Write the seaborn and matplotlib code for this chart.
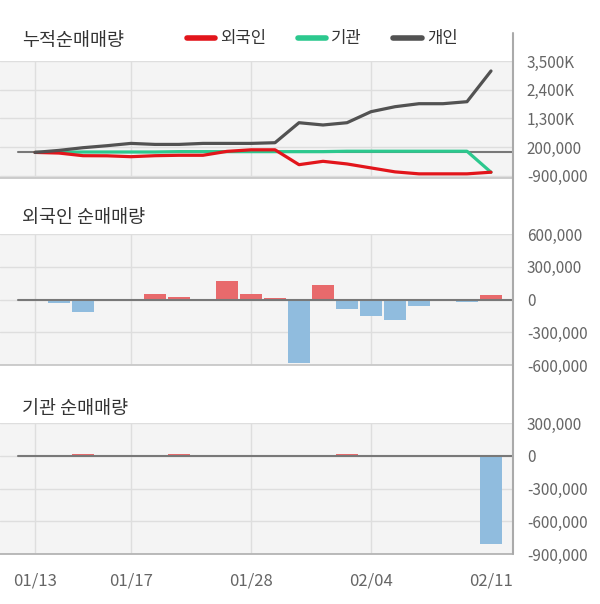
import matplotlib
matplotlib.use("Agg")
import matplotlib.pyplot as plt
from matplotlib.lines import Line2D
import seaborn as sns
import pandas as pd
import numpy as np

# ---------------- data ----------------
dates = ['01/13', '01/14', '01/15', '01/16', '01/17', '01/20', '01/21', '01/22', '01/23', '01/28',
         '01/29', '01/30', '01/31', '02/03', '02/04', '02/05', '02/06', '02/07', '02/10', '02/11']
tick_dates = ['01/13', '01/17', '01/28', '02/04', '02/11']

foreign_daily = [0, -28000, -110000, 0, 0, 46000, 21000, 0, 174000, 49000,
                 15000, -578000, 135000, -83000, -147000, -184000, -64000, 0, -20000, 43000]
inst_daily = [0, 0, 15000, 0, 0, 0, 15000, 0, 0, 0,
              0, 0, 0, 15000, 0, 0, 0, 0, 0, -805000]

foreign_cum = [0, -25000, -126000, -130000, -164000, -126000, -110000, -110000, 40000, 100000,
               100000, -470000, -341000, -442000, -594000, -745000, -821000, -821000, -821000, -758000]
inst_cum = [0, 0, 15000, 15000, 15000, 15000, 30000, 30000, 30000, 30000,
            30000, 30000, 30000, 45000, 45000, 45000, 45000, 45000, 45000, -760000]
indiv_cum = [0, 77000, 180000, 257000, 345000, 306000, 306000, 345000, 345000, 345000,
             371000, 1137000, 1050000, 1137000, 1559000, 1750000, 1865000, 1865000, 1942000, 3118000]

top_ticks = [-900000, 200000, 1300000, 2400000, 3500000]
top_labels = ['-900,000', '200,000', '1,300K', '2,400K', '3,500K']
mid_ticks = [-600000, -300000, 0, 300000, 600000]
bot_ticks = [-900000, -600000, -300000, 0, 300000]

# ---------------- style ----------------
sns.set_style("white")
plt.rcParams['font.family'] = ['Noto Sans CJK KR', 'DejaVu Sans']
plt.rcParams['axes.unicode_minus'] = False

W, H = 600, 604
fig = plt.figure(figsize=(6.0, 6.04), dpi=100)

RED_LINE = '#e2151b'
GREEN_LINE = '#2cc88e'
DARK_LINE = '#525252'
POS = '#e86a6c'
NEG = '#90bcde'
BG = '#f4f4f4'
GRID = '#dedede'
TICKC = '#666666'

x_left_px, x_right_px = 0, 513
idx0_px, step_px = 35, 24
xlim = ((x_left_px - idx0_px) / step_px, (x_right_px - idx0_px) / step_px)


def panel(y_top, y_bot):
    return fig.add_axes([x_left_px / W, 1 - y_bot / H, (x_right_px - x_left_px) / W, (y_bot - y_top) / H])


def style(ax, ticks, labels, ylim, zero_z):
    ax.set_facecolor(BG)
    ax.set_xlim(*xlim)
    ax.set_ylim(*ylim)
    ax.set_yticks(ticks)
    ax.set_yticklabels(labels)
    ax.yaxis.tick_right()
    ax.tick_params(axis='y', length=0, pad=10, labelcolor=TICKC, labelsize=11)
    ax.grid(False)
    for t in ticks:
        ax.axhline(t, color=GRID, lw=1.0, zorder=0.5)
    for p in [0, 4, 9, 14]:
        ax.axvline(p, color=GRID, lw=1.0, zorder=0.5)
    ax.axhline(0, xmin=18 / (x_right_px - x_left_px), color='#787878', lw=1.5, zorder=zero_z)
    for s in ['top', 'right', 'left']:
        ax.spines[s].set_visible(False)
    ax.spines['bottom'].set_color('#c8c8c8')
    ax.spines['bottom'].set_linewidth(1.3)
    ax.set_xlabel('')
    ax.set_ylabel('')


def fmt(v):
    return f"{v:,}"


# ---------------- top: cumulative ----------------
ax1 = panel(61, 178)
xi = np.arange(len(dates))
sns.lineplot(x=xi, y=inst_cum, color=GREEN_LINE, lw=2.3, ax=ax1, sort=False, zorder=3)
sns.lineplot(x=xi, y=foreign_cum, color=RED_LINE, lw=2.3, ax=ax1, sort=False, zorder=3.2)
sns.lineplot(x=xi, y=indiv_cum, color=DARK_LINE, lw=2.3, ax=ax1, sort=False, zorder=3.4)
style(ax1, top_ticks, top_labels, (-980000, 3500000), 2)
ax1.set_xticks([])

# ---------------- middle: foreign ----------------
df = pd.DataFrame({'date': dates, 'foreign': foreign_daily, 'inst': inst_daily})
df['fsign'] = np.where(df['foreign'] >= 0, 'pos', 'neg')
df['isign'] = np.where(df['inst'] >= 0, 'pos', 'neg')

ax2 = panel(234, 365)
sns.barplot(data=df, x='date', y='foreign', hue='fsign', order=dates, hue_order=['pos', 'neg'],
            palette={'pos': POS, 'neg': NEG}, dodge=False, width=0.94, saturation=1,
            linewidth=0, legend=False, ax=ax2, zorder=2)
style(ax2, mid_ticks, [fmt(t) for t in mid_ticks], (-600000, 600000), 3)
ax2.set_xticks([])

# ---------------- bottom: institution ----------------
ax3 = panel(423, 554)
sns.barplot(data=df, x='date', y='inst', hue='isign', order=dates, hue_order=['pos', 'neg'],
            palette={'pos': POS, 'neg': NEG}, dodge=False, width=0.94, saturation=1,
            linewidth=0, legend=False, ax=ax3, zorder=2)
style(ax3, bot_ticks, [fmt(t) for t in bot_ticks], (-900000, 300000), 3)
ax3.spines['bottom'].set_color('#b4b4b4')
ax3.set_xticks([dates.index(d) for d in tick_dates])
ax3.set_xticklabels(tick_dates)
ax3.tick_params(axis='x', length=0, pad=13, labelcolor=TICKC, labelsize=12)

# ---------------- decorations ----------------
fig.add_artist(Line2D([513 / W, 513 / W], [1 - 33 / H, 1 - 554 / H], transform=fig.transFigure,
                      color='#aaaaaa', lw=1.5))

fig.text(22 / W, 1 - 41 / H, '누적순매매량', fontsize=13.3, color='#333333', va='center', ha='left')
fig.text(22 / W, 1 - 218 / H, '외국인 순매매량', fontsize=13.3, color='#333333', va='center', ha='left')
fig.text(22 / W, 1 - 409 / H, '기관 순매매량', fontsize=13.3, color='#333333', va='center', ha='left')

handles = [Line2D([], [], color=RED_LINE, lw=4), Line2D([], [], color=GREEN_LINE, lw=4),
           Line2D([], [], color=DARK_LINE, lw=4)]
leg = fig.legend(handles, ['외국인', '기관', '개인'], loc='center', bbox_to_anchor=(322 / W, 1 - 39 / H),
                 ncol=3, frameon=False, handlelength=1.7, handletextpad=0.3, columnspacing=1.9,
                 fontsize=12)
for t in leg.get_texts():
    t.set_color('#333333')

fig.savefig('out.png', dpi=100)
